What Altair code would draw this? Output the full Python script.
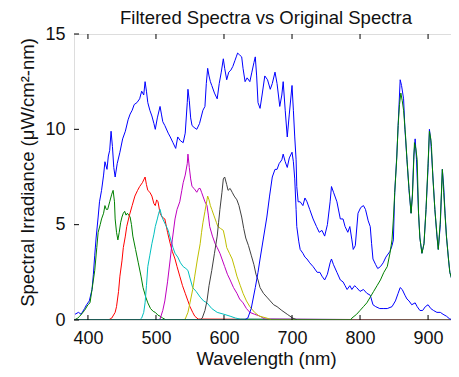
import altair as alt
import pandas as pd

# ---------- data ----------
orig_nm = [381, 386, 390, 395, 398, 402, 406, 408, 410, 412, 415, 417, 420, 423, 425, 428, 430, 432, 434, 436,
           438, 440, 443, 447, 451, 455, 459, 462, 465, 468, 472, 476, 479, 482, 484, 486, 488, 491, 494, 497,
           499, 502, 506, 508, 510, 513, 518, 521, 525, 529, 532, 536, 540, 543, 546, 547, 549, 551, 553, 556,
           560, 564, 569, 572, 574, 576, 578, 580, 582, 586, 590, 593, 596, 599, 601, 604, 607, 610, 613, 616,
           618, 620, 623, 626, 628, 631, 634, 638, 641, 644, 646, 648, 650, 653, 656, 660, 664, 668, 671, 675,
           678, 682, 685, 687, 690, 693, 696, 700, 702, 704, 706, 707, 709, 712, 716, 719, 722, 726, 731, 736,
           740, 744, 748, 752, 756, 758, 761, 766, 771, 775, 778, 782, 785, 788, 790, 793, 797, 801, 805, 808,
           812, 815, 817, 819, 823, 826, 830, 834, 838, 844, 847, 849, 851, 854, 856, 858, 859, 861, 864, 866,
           869, 872, 875, 877, 879, 881, 883, 886, 888, 891, 894, 897, 900, 902, 904, 907, 910, 913, 915, 918,
           921, 923, 925, 927, 930, 932, 936, 940, 944]
orig_val = [0.3, 0.4, 0.3, 0.6, 0.8, 1.0, 1.6, 2.4, 3.4, 4.3, 5.4, 6.2, 6.8, 7.6, 8.3, 7.9, 8.6, 8.9, 9.9, 9.1,
            8.0, 7.5, 8.2, 8.8, 9.5, 9.9, 10.5, 10.8, 11.0, 11.3, 11.4, 11.6, 12.0, 11.8, 12.5, 12.0, 11.4, 11.0, 10.7, 10.3,
            10.0, 10.6, 11.2, 10.8, 10.4, 10.2, 9.8, 9.6, 9.3, 9.0, 9.6, 9.4, 9.3, 9.8, 11.4, 12.1, 11.5, 10.6, 10.2, 10.1,
            10.0, 10.3, 11.0, 11.2, 12.4, 13.2, 12.8, 12.5, 12.3, 11.9, 11.6, 12.4, 13.0, 13.7, 13.2, 12.6, 13.0, 13.1, 13.3, 13.6,
            13.8, 14.0, 13.9, 13.8, 13.2, 12.5, 12.7, 12.5, 13.0, 13.5, 13.8, 12.8, 11.4, 11.1, 11.8, 12.8, 12.6, 12.1, 12.4, 13.0,
            12.4, 11.2, 11.8, 12.5, 11.0, 9.6, 10.8, 12.3, 11.0, 9.6, 8.4, 7.0, 6.2, 6.2, 6.0, 6.4, 6.2, 5.8, 5.3, 4.9,
            4.6, 4.7, 4.4, 5.0, 6.2, 7.0, 6.7, 6.2, 5.3, 5.3, 4.9, 4.6, 4.9, 4.2, 3.7, 3.9, 5.6, 5.9, 6.0, 5.8,
            5.2, 4.9, 4.0, 3.2, 2.9, 2.7, 2.8, 3.0, 3.3, 3.6, 3.9, 4.2, 6.7, 8.6, 10.2, 11.8, 12.6, 12.3, 11.6, 10.0,
            8.4, 6.8, 5.6, 6.6, 8.6, 9.5, 8.4, 5.6, 4.3, 3.5, 4.0, 5.8, 8.0, 10.0, 9.4, 7.6, 5.8, 4.4, 3.7, 5.0,
            7.9, 7.0, 5.6, 4.4, 3.2, 2.5, 2.0, 1.8, 1.7]

dgreen_nm = [380, 385, 388, 395, 400, 403, 406, 410, 413, 415, 418, 420, 423, 425, 427, 429, 432, 435, 437, 439,
             440, 442, 444, 446, 448, 450, 452, 454, 456, 458, 460, 462, 464, 466, 470, 474, 478, 481, 485, 488,
             492, 496, 499, 503, 506, 510, 515, 944]
dgreen_val = [0, 0.1, 0.2, 0.5, 0.8, 0.9, 1.6, 2.6, 3.8, 4.6, 5.0, 5.3, 5.6, 6.0, 5.8, 5.8, 6.2, 6.6, 6.8, 6.2,
              5.3, 4.6, 4.2, 4.6, 5.1, 5.4, 5.6, 5.7, 5.5, 5.6, 5.5, 5.4, 5.0, 4.4, 3.7, 3.0, 2.3, 1.7, 1.2, 0.9,
              0.6, 0.45, 0.4, 0.25, 0.2, 0.1, 0.0, 0]

red_nm = [380, 430, 435, 440, 442, 445, 447, 450, 452, 455, 457, 461, 465, 469, 473, 476, 480, 484, 486, 488,
          491, 494, 497, 499, 501, 503, 506, 509, 513, 517, 521, 524, 528, 531, 535, 539, 543, 547, 550, 554,
          557, 562, 944]
red_val = [0, 0, 0.1, 0.4, 0.7, 1.5, 2.3, 3.1, 3.8, 4.4, 4.9, 5.5, 6.0, 6.5, 6.8, 7.0, 7.2, 7.5, 7.1, 6.8,
           6.7, 6.5, 6.1, 6.0, 6.3, 6.2, 5.6, 5.4, 5.3, 4.6, 4.0, 3.6, 3.2, 2.8, 2.3, 1.8, 1.4, 1.0, 0.7, 0.4,
           0.2, 0.05, 0]

cyan_nm = [380, 476, 479, 482, 484, 486, 488, 491, 494, 497, 499, 502, 504, 506, 508, 510, 514, 518, 521, 525,
           528, 532, 536, 540, 544, 547, 550, 554, 559, 565, 570, 575, 582, 590, 600, 609, 617, 624, 944]
cyan_val = [0, 0, 0.1, 0.4, 0.9, 1.8, 2.8, 3.4, 4.0, 4.5, 4.9, 5.3, 5.6, 5.8, 5.5, 5.3, 5.0, 4.7, 4.3, 3.8,
            3.5, 3.3, 3.0, 2.8, 2.7, 2.6, 2.2, 1.7, 1.5, 1.2, 1.0, 0.9, 0.6, 0.4, 0.3, 0.2, 0.1, 0.05, 0]

mag_nm = [380, 502, 506, 510, 513, 517, 521, 524, 528, 531, 535, 538, 540, 543, 546, 547, 549, 551, 553, 556,
          560, 563, 565, 567, 569, 572, 575, 577, 579, 583, 587, 590, 594, 597, 601, 605, 609, 614, 619, 623,
          628, 633, 638, 645, 653, 660, 944]
mag_val = [0, 0, 0.05, 0.5, 1.0, 2.0, 3.2, 4.2, 5.3, 5.8, 6.2, 6.8, 7.2, 7.6, 8.2, 8.7, 8.0, 7.4, 7.0, 6.9,
           6.7, 6.9, 6.9, 6.7, 6.5, 6.2, 6.0, 5.5, 4.9, 4.4, 4.0, 3.8, 3.5, 3.2, 2.8, 2.4, 2.1, 1.7, 1.4, 1.1,
           0.9, 0.6, 0.4, 0.3, 0.2, 0.05, 0]

yel_nm = [380, 540, 543, 547, 550, 554, 557, 561, 565, 567, 569, 572, 575, 576, 578, 580, 582, 585, 587, 589,
          591, 595, 599, 602, 604, 608, 612, 616, 619, 624, 628, 633, 638, 645, 652, 663, 670, 944]
yel_val = [0, 0, 0.05, 0.4, 0.9, 1.6, 2.3, 3.2, 4.0, 4.6, 5.1, 5.7, 6.3, 6.5, 6.3, 6.0, 5.8, 5.5, 5.3, 5.1,
           4.9, 4.8, 4.7, 4.2, 3.8, 3.5, 3.2, 2.7, 2.3, 1.8, 1.4, 1.0, 0.7, 0.4, 0.2, 0.1, 0, 0]

gray_nm = [380, 565, 568, 572, 575, 578, 582, 586, 590, 592, 594, 597, 599, 601, 604, 606, 609, 612, 615, 619,
           622, 626, 629, 632, 636, 640, 644, 647, 650, 653, 658, 663, 668, 673, 678, 685, 693, 701, 708, 944]
gray_val = [0, 0, 0.1, 0.5, 1.0, 1.8, 2.6, 3.5, 4.4, 5.1, 5.8, 6.7, 7.4, 7.5, 7.1, 6.8, 6.9, 6.7, 6.5, 6.3,
            6.0, 5.4, 4.8, 4.3, 3.9, 3.4, 2.9, 2.4, 2.1, 1.7, 1.4, 1.2, 1.0, 0.8, 0.7, 0.5, 0.3, 0.1, 0, 0]

blue_nm = [380, 630, 635, 640, 646, 650, 653, 658, 663, 667, 671, 675, 678, 681, 685, 687, 690, 693, 696, 700,
           702, 704, 706, 707, 710, 712, 716, 719, 722, 726, 731, 737, 741, 744, 748, 752, 756, 758, 761, 766,
           771, 775, 778, 781, 785, 788, 792, 795, 800, 805, 810, 815, 819, 823, 829, 835, 840, 847, 852, 856,
           859, 862, 866, 869, 872, 876, 881, 884, 888, 892, 896, 900, 904, 908, 913, 918, 922, 927, 932, 944]
blue_val = [0, 0, 0.1, 0.6, 1.7, 2.5, 3.2, 4.3, 5.4, 6.5, 7.5, 7.9, 7.9, 8.2, 8.4, 8.7, 8.3, 8.0, 8.5, 8.8,
            8.3, 7.4, 5.8, 4.9, 4.1, 3.7, 3.5, 3.3, 3.2, 3.0, 2.8, 2.5, 2.5, 2.3, 2.1, 2.4, 3.0, 3.2, 2.9, 2.5,
            2.1, 2.0, 1.8, 1.6, 1.8, 1.6, 1.8, 1.7, 1.5, 1.6, 1.4, 1.3, 0.8, 0.7, 0.6, 0.6, 0.6, 0.7, 1.0, 1.4,
            1.7, 1.6, 1.3, 1.1, 1.0, 0.8, 0.9, 0.7, 0.5, 0.5, 0.7, 0.8, 0.6, 0.5, 0.4, 0.4, 0.3, 0.2, 0.05, 0]

nir_nm = [380, 786, 788, 795, 800, 805, 810, 815, 820, 825, 830, 835, 840, 844, 847, 849, 851, 854, 856, 858,
          860, 862, 864, 867, 869, 872, 875, 877, 879, 880, 882, 884, 886, 888, 891, 894, 897, 900, 902, 904,
          905, 907, 910, 913, 915, 918, 921, 923, 925, 927, 930, 932, 936, 940, 944]
nir_val = [0, 0, 0.1, 0.3, 0.5, 0.7, 0.9, 1.2, 1.5, 1.8, 2.1, 2.5, 2.8, 3.5, 4.2, 5.3, 6.7, 8.5, 10.2, 11.3,
           11.9, 11.5, 11.0, 9.6, 8.4, 6.9, 5.6, 6.5, 8.4, 9.3, 9.0, 8.4, 5.6, 4.3, 3.5, 4.0, 5.8, 8.2, 9.9, 9.5,
           9.1, 7.5, 5.8, 4.5, 3.7, 5.2, 7.9, 6.7, 5.5, 4.4, 3.2, 2.5, 2.0, 1.8, 1.7]

x_ticks = [400, 500, 600, 700, 800, 900]
y_ticks = [0, 5, 10, 15]
chart_title = ["Filtered Spectra vs Original Spectra"]

series = [
    ("Original", orig_nm, orig_val, "#0000FF"),
    ("F1", dgreen_nm, dgreen_val, "#008000"),
    ("F2", red_nm, red_val, "#FF0000"),
    ("F3", cyan_nm, cyan_val, "#00BFBF"),
    ("F4", mag_nm, mag_val, "#BF00BF"),
    ("F5", yel_nm, yel_val, "#BFBF00"),
    ("F6", gray_nm, gray_val, "#404040"),
    ("F7", blue_nm, blue_val, "#0000FF"),
    ("F8", nir_nm, nir_val, "#008000"),
]

W, H = 384, 286
XDOM = [379.5, 944]
FONT = "Liberation Sans"
TXT = "#111111"

xscale = alt.Scale(domain=XDOM, nice=False, zero=False)
yscale = alt.Scale(domain=[0, 15], nice=False)

xaxis = alt.Axis(values=x_ticks, title="Wavelength (nm)", grid=False, domain=False, ticks=False, tickSize=0,
                 labelFontSize=18, labelFont=FONT, labelColor=TXT, labelPadding=23, labelBaseline="alphabetic",
                 titleFontSize=18.5, titleFont=FONT, titleColor=TXT, titleFontWeight="normal",
                 titleBaseline="alphabetic", titleY=44, titleX=W / 2)
yaxis = alt.Axis(values=y_ticks, title="Spectral Irradiance (\u03bcW/cm\u00b2-nm)", grid=False, domain=False,
                 ticks=False, tickSize=0, labelFontSize=18, labelFont=FONT, labelColor=TXT, labelPadding=9,
                 titleFontSize=18.5, titleFont=FONT, titleColor=TXT, titleFontWeight="normal",
                 titleBaseline="alphabetic", titleX=-41, titleY=138)

layers = []
for name, xs, ys, col in series:
    df = pd.DataFrame({"nm": xs, "val": ys})
    layers.append(alt.Chart(df).mark_line(color=col, strokeWidth=1, clip=True).encode(
        x=alt.X("nm:Q", scale=xscale, axis=xaxis),
        y=alt.Y("val:Q", scale=yscale, axis=yaxis)))

xt = pd.DataFrame({"nm": x_ticks})
yt = pd.DataFrame({"val": y_ticks})
TL = 5
tick_layers = [
    alt.Chart(xt).mark_rule(color="#000", strokeWidth=1).encode(
        x=alt.X("nm:Q", scale=xscale, axis=xaxis), y=alt.value(H), y2=alt.value(H - TL)),
    alt.Chart(xt).mark_rule(color="#000", strokeWidth=1).encode(
        x=alt.X("nm:Q", scale=xscale, axis=xaxis), y=alt.value(0), y2=alt.value(TL)),
    alt.Chart(yt).mark_rule(color="#000", strokeWidth=1).encode(
        y=alt.Y("val:Q", scale=yscale, axis=yaxis), x=alt.value(0), x2=alt.value(TL)),
    alt.Chart(yt).mark_rule(color="#000", strokeWidth=1).encode(
        y=alt.Y("val:Q", scale=yscale, axis=yaxis), x=alt.value(W), x2=alt.value(W - TL)),
]

title_layer = alt.Chart(pd.DataFrame({"t": chart_title})).mark_text(
    font=FONT, fontSize=18.5, color=TXT, align="center", baseline="alphabetic"
).encode(text="t:N", x=alt.value(W / 2), y=alt.value(-10.5))

chart = alt.layer(*layers, *tick_layers, title_layer).properties(
    width=W, height=H,
    autosize=alt.AutoSizeParams(type="none"),
    padding={"left": 66, "top": 26, "right": -7, "bottom": 49},
).configure_view(stroke="#000", strokeWidth=1).configure(background="white")

chart.save("out.html", embed_options={"renderer": "svg", "actions": False})
